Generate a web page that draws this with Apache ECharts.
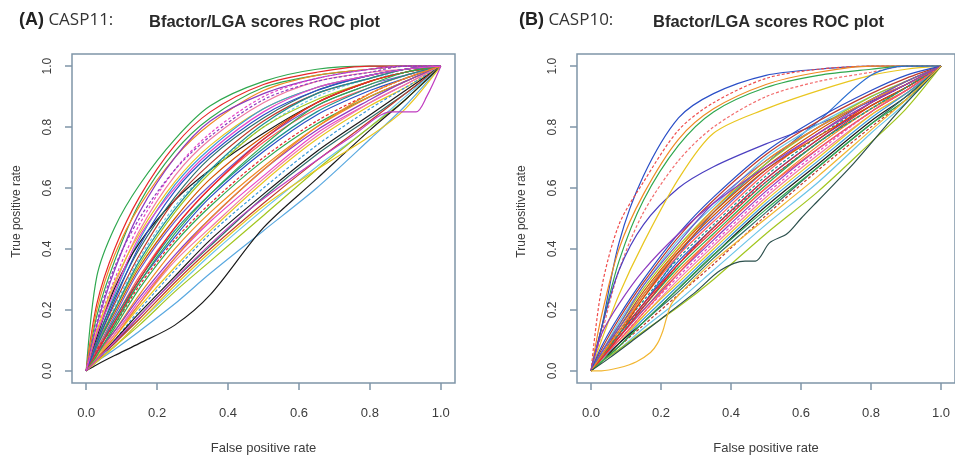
<!DOCTYPE html>
<html>
<head>
<meta charset="utf-8">
<style>
  html, body { margin: 0; padding: 0; background: #ffffff; }
  #chart { width: 955px; height: 460px; }
</style>
<script src="https://cdn.jsdelivr.net/npm/echarts@6/dist/echarts.min.js"></script>
</head>
<body>
<div id="chart"></div>
<script>
// Shared false-positive-rate sampling points for the ROC curves
const fprGrid = [0, 0.03, 0.08, 0.15, 0.25, 0.35, 0.5, 0.65, 0.8, 0.9, 1];

// Axis tick positions (both panels)
const tickValues = [0, 0.2, 0.4, 0.6, 0.8, 1.0];

// CASP11: true positive rate of each target at fprGrid
const casp11Tpr = [
  [0, .31, .47, .61, .76, .87, .95, .99, 1, 1, 1],
  [0, .22, .40, .57, .74, .85, .94, .98, 1, 1, 1],
  [0, .18, .36, .55, .72, .83, .93, .97, .99, 1, 1],
  [0, .20, .38, .54, .70, .81, .92, .97, .99, 1, 1],
  [0, .15, .33, .52, .70, .82, .91, .96, .99, 1, 1],
  [0, .14, .30, .48, .66, .78, .90, .96, .99, 1, 1],
  [0, .12, .28, .46, .64, .76, .88, .95, .98, .99, 1],
  [0, .13, .29, .45, .62, .74, .86, .93, .97, .99, 1],
  [0, .10, .25, .43, .61, .73, .86, .93, .97, .99, 1],
  [0, .11, .27, .42, .56, .66, .78, .88, .95, .98, 1],
  [0, .10, .24, .40, .57, .70, .83, .92, .97, .99, 1],
  [0, .09, .22, .38, .56, .68, .82, .91, .96, .99, 1],
  [0, .08, .21, .37, .54, .66, .80, .90, .96, .98, 1],
  [0, .09, .20, .35, .52, .65, .80, .89, .95, .98, 1],
  [0, .08, .19, .34, .50, .63, .77, .88, .95, .98, 1],
  [0, .07, .18, .33, .49, .61, .76, .87, .94, .97, 1],
  [0, .07, .17, .31, .47, .60, .75, .86, .93, .97, 1],
  [0, .06, .17, .30, .46, .58, .73, .85, .93, .97, 1],
  [0, .06, .16, .29, .44, .57, .72, .84, .92, .96, 1],
  [0, .07, .15, .28, .43, .55, .70, .82, .91, .96, 1],
  [0, .05, .14, .27, .42, .54, .69, .81, .90, .95, 1],
  [0, .05, .13, .25, .40, .52, .67, .80, .90, .95, 1],
  [0, .06, .13, .24, .38, .50, .66, .79, .89, .95, 1],
  [0, .05, .12, .23, .37, .49, .64, .78, .88, .94, 1],
  [0, .04, .12, .22, .36, .47, .63, .77, .88, .94, 1],
  [0, .05, .11, .21, .34, .46, .62, .76, .87, .93, 1],
  [0, .04, .10, .20, .33, .45, .60, .74, .86, .93, 1],
  [0, .04, .10, .19, .31, .43, .58, .72, .84, .92, 1],
  [0, .04, .09, .18, .30, .41, .57, .71, .83, .91, 1],
  [0, .03, .09, .17, .29, .40, .55, .69, .82, .91, 1],
  [0, .04, .08, .16, .27, .38, .53, .67, .80, .90, 1],
  [0, .03, .08, .15, .26, .36, .51, .66, .80, .89, 1],
  [0, .03, .07, .13, .22, .32, .46, .60, .76, .87, 1],
  [0, .02, .05, .09, .15, .25, .47, .63, .79, .89, 1],
  [0, .03, .08, .16, .28, .39, .54, .66, .77, .86, 1],
  [0, .08, .20, .36, .53, .66, .81, .91, .96, .99, 1],
  [0, .09, .23, .41, .59, .71, .84, .92, .97, .99, 1],
  [0, .06, .16, .30, .47, .60, .76, .88, .95, .98, 1],
  [0, .05, .15, .29, .45, .58, .74, .87, .94, .98, 1],
  [0, .04, .11, .22, .37, .50, .66, .80, .91, .96, 1],
  [0, .16, .34, .50, .66, .77, .89, .95, .98, 1, 1],
  [0, .12, .26, .44, .60, .72, .85, .93, .97, .99, 1]
];
// CASP11 target whose curve flattens near the upper right
const casp11FlatFpr = [0, .05, .15, .3, .45, .6, .75, .86, .93, .96, 1];
const casp11FlatTpr = [0, .06, .18, .36, .52, .65, .77, .85, .85, .90, 1];

// CASP10: true positive rate of each target at fprGrid
const casp10Tpr = [
  [0, .14, .42, .64, .83, .91, .97, .99, 1, 1, 1],
  [0, .27, .48, .62, .79, .88, .96, .99, 1, 1, 1],
  [0, .18, .40, .58, .76, .86, .94, .98, 1, 1, 1],
  [0, .14, .36, .56, .74, .85, .93, .97, .99, 1, 1],
  [0, .12, .33, .52, .69, .80, .90, .95, .98, 1, 1],
  [0, .14, .33, .48, .60, .67, .745, .81, .885, .94, 1],
  [0, .10, .25, .42, .63, .78, .86, .92, .97, .99, 1],
  [0, .04, .12, .22, .38, .52, .68, .82, .97, 1, 1],
  [0, .07, .17, .29, .44, .56, .71, .82, .91, .96, 1],
  [0, .06, .16, .28, .43, .54, .70, .81, .90, .95, 1],
  [0, .06, .15, .27, .41, .53, .68, .80, .90, .95, 1],
  [0, .05, .14, .26, .40, .52, .67, .79, .89, .95, 1],
  [0, .06, .14, .25, .39, .50, .66, .78, .89, .94, 1],
  [0, .05, .13, .24, .38, .49, .65, .78, .88, .94, 1],
  [0, .05, .13, .23, .37, .48, .64, .77, .88, .94, 1],
  [0, .05, .12, .22, .36, .47, .63, .76, .87, .93, 1],
  [0, .04, .12, .22, .35, .46, .62, .75, .87, .93, 1],
  [0, .05, .11, .21, .34, .45, .61, .75, .86, .93, 1],
  [0, .04, .11, .20, .33, .44, .60, .74, .86, .92, 1],
  [0, .04, .11, .20, .32, .43, .59, .73, .85, .92, 1],
  [0, .04, .10, .19, .31, .42, .58, .72, .85, .92, 1],
  [0, .04, .10, .18, .30, .41, .57, .71, .84, .91, 1],
  [0, .03, .09, .18, .29, .40, .56, .70, .84, .91, 1],
  [0, .04, .09, .17, .28, .39, .55, .69, .83, .91, 1],
  [0, .03, .09, .16, .27, .38, .54, .68, .82, .90, 1],
  [0, .03, .08, .16, .26, .37, .52, .67, .81, .90, 1],
  [0, .03, .08, .15, .25, .35, .51, .66, .80, .89, 1],
  [0, .03, .07, .14, .23, .33, .48, .62, .78, .88, 1],
  [0, .03, .07, .13, .21, .30, .45, .59, .75, .86, 1],
  [0, .05, .12, .24, .39, .51, .66, .77, .87, .93, 1],
  [0, .06, .15, .28, .42, .55, .69, .80, .89, .95, 1],
  [0, .04, .10, .19, .32, .44, .60, .73, .85, .92, 1],
  [0, .05, .12, .21, .35, .47, .62, .75, .86, .93, 1],
  [0, .08, .18, .30, .45, .57, .72, .83, .92, .97, 1],
  [0, .04, .11, .21, .35, .47, .63, .76, .88, .94, 1],
  [0, .03, .08, .16, .27, .38, .53, .67, .81, .89, 1],
  [0, .05, .13, .25, .40, .53, .69, .80, .89, .94, 1],
  [0, .12, .22, .33, .45, .55, .67, .78, .88, .94, 1]
];
// CASP10 targets with step-like curves
const casp10StepFpr = [0, .05, .12, .2, .3, .37, .44, .47, .51, .56, .6, .65, .75, .87, 1];
const casp10StepTpr = [0, .04, .10, .17, .26, .33, .36, .36, .42, .45, .50, .56, .68, .84, 1];
const casp10LateFpr = [0, .03, .08, .13, .17, .19, .205, .215, .23, .26, .35, .5, .65, .8, .9, 1];
const casp10LateTpr = [0, 0, .01, .03, .06, .09, .13, .17, .22, .26, .36, .50, .64, .79, .89, 1];

// Line colours, cycled through the targets
const palette = [
  '#2a4fc7', '#e8262a', '#2fa84f', '#f08a24', '#8e3bbf', '#e645c8',
  '#f07aa0', '#e9c61f', '#3a9ad9', '#1a1a1a', '#2e6e6a', '#c0392b',
  '#6bc4e8', '#a2c61f', '#d35400', '#6a5acd', '#ff5a5a', '#1b8f8f'
];

const boxColor = '#7f95a8';
const labelColor = '#3c3c3c';
const font = 'Liberation Sans, Arial, sans-serif';

function curveSeries(fpr, tpr, idx, color, dashed) {
  return {
    type: 'line',
    xAxisIndex: idx,
    yAxisIndex: idx,
    data: fpr.map((x, i) => [x, tpr[i]]),
    smooth: 0.3,
    showSymbol: false,
    symbol: 'none',
    silent: true,
    lineStyle: { color: color, width: 1.2, type: dashed ? [3, 2] : 'solid' },
    z: 3
  };
}

const series = [];
casp11Tpr.forEach((tpr, i) => {
  let color = palette[i % palette.length];
  if (i === 32) color = '#5aa9e0';
  if (i === 33) color = '#1a1a1a';
  if (i === 34) color = '#e9c61f';
  if (i === 0) color = '#2fa84f';
  const dashed = i % 7 === 5 && i !== 33;
  series.push(curveSeries(fprGrid, tpr, 0, color, dashed));
});
series.push(curveSeries(casp11FlatFpr, casp11FlatTpr, 0, '#c03cc0', false));

const casp10Colors = ['#2a4fc7', '#ef4b4b', '#f08a24', '#2fa84f', '#f26d6d', '#4b3fc0', '#e9c61f', '#2a6fd0'];
casp10Tpr.forEach((tpr, i) => {
  const color = i < casp10Colors.length ? casp10Colors[i] : palette[(i + 3) % palette.length];
  const dashed = i === 1 || i === 4 || (i > 8 && i % 6 === 2);
  series.push(curveSeries(fprGrid, tpr, 1, color, dashed));
});
series.push(curveSeries(casp10StepFpr, casp10StepTpr, 1, '#2b4f4c', false));
series.push(curveSeries(casp10LateFpr, casp10LateTpr, 1, '#f2b631', false));

function xAxisFor(idx) {
  return {
    type: 'value',
    gridIndex: idx,
    position: 'bottom',
    min: -0.04,
    max: 1.04,
    splitLine: { show: false },
    axisLine: { show: false, onZero: false },
    axisTick: {
      show: true,
      inside: false,
      customValues: tickValues,
      length: 7,
      lineStyle: { color: boxColor, width: 1.5 }
    },
    axisLabel: {
      customValues: tickValues,
      formatter: v => v.toFixed(1),
      margin: 24,
      fontSize: 13,
      fontFamily: font,
      color: labelColor
    },
    name: 'False positive rate',
    nameLocation: 'middle',
    nameGap: 59,
    nameTextStyle: { fontSize: 13, fontFamily: font, color: labelColor }
  };
}

function yAxisFor(idx) {
  return {
    type: 'value',
    gridIndex: idx,
    position: 'left',
    min: -0.04,
    max: 1.04,
    splitLine: { show: false },
    axisLine: { show: false, onZero: false },
    axisTick: {
      show: true,
      inside: false,
      customValues: tickValues,
      length: 7,
      lineStyle: { color: boxColor, width: 1.5 }
    },
    axisLabel: {
      customValues: tickValues,
      formatter: v => v.toFixed(1),
      rotate: 90,
      margin: 18,
      fontSize: 12,
      fontFamily: font,
      color: labelColor
    },
    name: 'True positive rate',
    nameLocation: 'middle',
    nameGap: 49,
    nameTextStyle: { fontSize: 12, fontFamily: font, color: labelColor, padding: [0, 0, 0, 14] }
  };
}

const titleRich = {
  p: { fontFamily: font, fontWeight: 'bold', fontSize: 18, color: '#222222' },
  c: { fontFamily: 'Open Sans, sans-serif', fontWeight: 'normal', fontSize: 17, color: '#333333' }
};
const headingStyle = { fontFamily: font, fontWeight: 'bold', fontSize: 16.5, color: '#2a2a2a' };

const chart = echarts.init(document.getElementById('chart'), null, { renderer: 'canvas' });
chart.setOption({
  backgroundColor: '#ffffff',
  animation: false,
  title: [
    { left: 14, top: 6, text: '{p|(A)}{c| CASP11:}', textStyle: { fontWeight: 'normal', rich: titleRich } },
    { left: 144, top: 9, text: 'Bfactor/LGA scores ROC plot', textStyle: headingStyle },
    { left: 514, top: 6, text: '{p|(B)}{c| CASP10:}', textStyle: { fontWeight: 'normal', rich: titleRich } },
    { left: 648, top: 9, text: 'Bfactor/LGA scores ROC plot', textStyle: headingStyle }
  ],
  grid: [
    { left: 72, top: 54, width: 383, height: 329, show: true, borderColor: boxColor, borderWidth: 1.5, backgroundColor: '#ffffff' },
    { left: 577, top: 54, width: 380, height: 329, show: true, borderColor: boxColor, borderWidth: 1.5, backgroundColor: '#ffffff' }
  ],
  xAxis: [xAxisFor(0), xAxisFor(1)],
  yAxis: [yAxisFor(0), yAxisFor(1)],
  series: series
});
</script>
</body>
</html>
